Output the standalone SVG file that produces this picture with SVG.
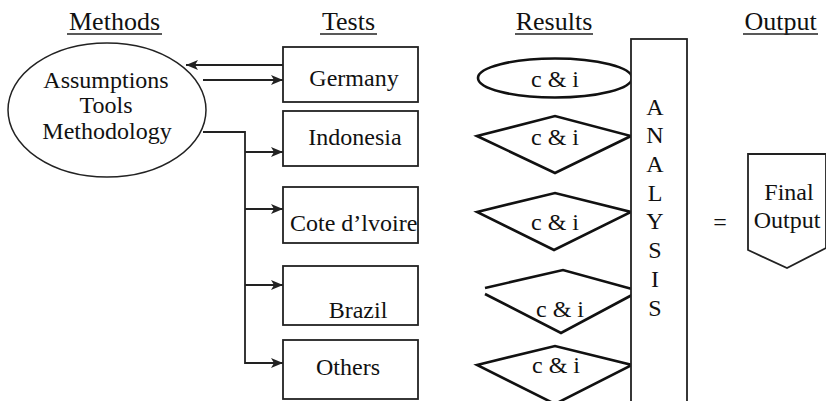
<svg xmlns="http://www.w3.org/2000/svg" width="826" height="401" viewBox="0 0 826 401">
<defs>
<style>
.h{font-size:26px;text-anchor:middle;}
.t{font-size:24px;text-anchor:middle;}
.box{fill:#fff;stroke:#222;stroke-width:1.8;}
.res{fill:#fff;stroke:#111;stroke-width:2.6;stroke-linejoin:miter;}
.ul{stroke:#222;stroke-width:1.3;}
.con{fill:none;stroke:#222;stroke-width:1.8;}
</style>
<marker id="ah" viewBox="0 0 12 10" refX="12" refY="5" markerWidth="12" markerHeight="10" markerUnits="userSpaceOnUse" orient="auto">
<path d="M0,0 L12,5 L0,10 L3,5 Z" fill="#222"/>
</marker>
</defs>
<rect width="826" height="401" fill="#fff"/>
<g font-family="'Liberation Serif', 'DejaVu Serif', serif" fill="#111">

<g id="headings">
<text class="h" x="114.5" y="30">Methods</text>
<line class="ul" x1="67" y1="34" x2="162" y2="34"/>
<text class="h" x="348.5" y="30">Tests</text>
<line class="ul" x1="320" y1="34" x2="377" y2="34"/>
<text class="h" x="554" y="30">Results</text>
<line class="ul" x1="515" y1="34" x2="593" y2="34"/>
<text class="h" x="780.5" y="30">Output</text>
<line class="ul" x1="743" y1="34" x2="818" y2="34"/>
</g>

<g id="methods">
<ellipse cx="107" cy="110" rx="99" ry="67" fill="#fff" stroke="#222" stroke-width="1.5"/>
<text class="t" x="106" y="88">Assumptions</text>
<text class="t" x="106" y="113">Tools</text>
<text class="t" x="107" y="139">Methodology</text>
</g>

<g id="germany">
<rect class="box" x="283" y="47" width="135" height="55"/>
<text class="t" x="354" y="86">Germany</text>
</g>
<g id="indonesia">
<rect class="box" x="283" y="111" width="135" height="55"/>
<text class="t" x="355" y="145">Indonesia</text>
</g>
<g id="cote">
<rect class="box" x="283" y="187" width="135" height="56"/>
<text x="290" y="231" font-size="24">Cote d’lvoire</text>
</g>
<g id="brazil">
<rect class="box" x="283" y="266" width="135" height="59"/>
<text class="t" x="358" y="318">Brazil</text>
</g>
<g id="others">
<rect class="box" x="283" y="340" width="135" height="59"/>
<text class="t" x="348" y="375">Others</text>
</g>

<g id="connectors">
<line class="con" x1="283" y1="65" x2="186" y2="65" marker-end="url(#ah)"/>
<line class="con" x1="203" y1="80" x2="283" y2="80" marker-end="url(#ah)"/>
<polyline class="con" points="203,132 245,132 245,363 283,363" marker-end="url(#ah)"/>
<line class="con" x1="245" y1="152" x2="283" y2="152" marker-end="url(#ah)"/>
<line class="con" x1="245" y1="209" x2="283" y2="209" marker-end="url(#ah)"/>
<line class="con" x1="245" y1="285" x2="283" y2="285" marker-end="url(#ah)"/>
</g>

<g id="result-germany">
<ellipse class="res" cx="555" cy="78" rx="77" ry="19.5" stroke-width="2"/>
<text class="t" x="555" y="87">c &amp; i</text>
</g>
<g id="result-indonesia">
<path class="res" d="M477,136 L555,116 L631,136 L555,173 Z"/>
<text class="t" x="555" y="145">c &amp; i</text>
</g>
<g id="result-cote">
<path class="res" d="M477,212 L555,193 L631,212 L554,250 Z"/>
<text class="t" x="555" y="230">c &amp; i</text>
</g>
<g id="result-brazil">
<path class="res" d="M485,288 L563,270 L632,289"/>
<path class="res" d="M485,294 L561,333 L632,295"/>
<text class="t" x="560" y="317">c &amp; i</text>
</g>
<g id="result-others">
<path class="res" d="M477,365 L555,346 L632,365 L555,404 Z"/>
<text class="t" x="556" y="373">c &amp; i</text>
</g>

<g id="analysis">
<rect class="box" x="631" y="39" width="56" height="380"/>
<text class="t" x="655" y="115">A</text>
<text class="t" x="655" y="143">N</text>
<text class="t" x="655" y="172">A</text>
<text class="t" x="655" y="201">L</text>
<text class="t" x="655" y="229">Y</text>
<text class="t" x="655" y="258">S</text>
<text class="t" x="655" y="287">I</text>
<text class="t" x="655" y="316">S</text>
</g>

<g id="equals">
<text class="t" x="720" y="230">=</text>
</g>

<g id="final-output">
<polygon points="748,154 826,154 826,248 787,268 748,250" fill="#fff" stroke="#222" stroke-width="1.8"/>
<text class="t" x="789" y="200">Final</text>
<text class="t" x="787" y="228">Output</text>
</g>
</g>
</svg>
